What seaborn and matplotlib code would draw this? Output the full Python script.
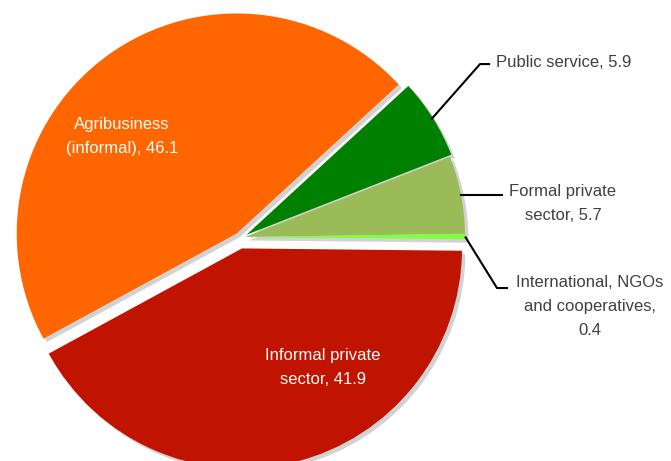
import numpy as np
import matplotlib
matplotlib.use("Agg")
import matplotlib.pyplot as plt
import matplotlib.patheffects as pe
import seaborn as sns

# Employment by sector (%)
sectors = ["Public service", "Formal private sector",
           "International, NGOs and cooperatives",
           "Informal private sector", "Agribusiness (informal)"]
shares = [5.9, 5.7, 0.4, 41.9, 46.1]
label_text = ["Public service, 5.9", "Formal private\nsector, 5.7",
              "International, NGOs\nand cooperatives,\n0.4",
              "Informal private\nsector, 41.9", "Agribusiness\n(informal), 46.1"]
colors = ["#008000", "#9BBB59", "#7FFF3F", "#C01300", "#FF6600"]

sns.set_theme(style="white")
plt.rcParams["font.family"] = ["Liberation Sans", "DejaVu Sans"]

fig = plt.figure(figsize=(6.71, 4.61), dpi=100)
ax = fig.add_axes([0, 0, 1, 1])

shadow = [pe.SimplePatchShadow(offset=(2.5, -2.5), shadow_rgbFace="#808080", alpha=0.35),
          pe.Normal()]
wedges, _ = ax.pie(shares, colors=colors, startangle=42.6,
                   counterclock=False, radius=1.0,
                   wedgeprops=dict(linewidth=0, edgecolor="none"))

# pull the slices apart slightly
offsets = [(0.006, 0.010), (0.0, 0.0), (0.0, 0.0), (-0.014, -0.052), (-0.038, 0.016)]
for w, (dx, dy) in zip(wedges, offsets):
    w.set_center((dx, dy))
    w.set_path_effects(shadow)

ax.set_aspect("equal")
ax.set_xlim(-1.114, 1.936)
ax.set_ylim(-1.018, 1.077)
ax.axis("off")


def edge_point(w, r=1.0):
    mid = np.deg2rad((w.theta1 + w.theta2) / 2)
    cx, cy = w.center
    return cx + r * w.r * np.cos(mid), cy + r * w.r * np.sin(mid)


outer_kw = dict(color="#404040", fontsize=12, linespacing=1.75)
line_kw = dict(color="black", lw=1.5, solid_capstyle="butt")

# Public service
x0, y0 = edge_point(wedges[0], 0.99)
ax.plot([x0, 1.068, 1.114], [y0, 0.786, 0.786], **line_kw)
ax.text(1.14, 0.795, label_text[0], ha="left", va="center", **outer_kw)

# Formal private sector
x0, y0 = edge_point(wedges[1], 0.995)
ax.plot([x0, 1.173], [y0, y0], **line_kw)
ax.text(1.445, 0.15, label_text[1], ha="center", va="center", **outer_kw)

# International, NGOs and cooperatives
x0, y0 = edge_point(wedges[2], 1.0)
ax.plot([x0, 1.145, 1.195], [y0, -0.232, -0.232], **line_kw)
ax.text(1.568, -0.318, label_text[2], ha="center", va="center", **outer_kw)

# Inside labels
inner_kw = dict(color="white", fontsize=12, linespacing=1.75, ha="center", va="center")
ax.text(-0.559, 0.455, label_text[4], **inner_kw)
ax.text(0.355, -0.595, label_text[3], **inner_kw)

fig.savefig("out.png", dpi=100)
